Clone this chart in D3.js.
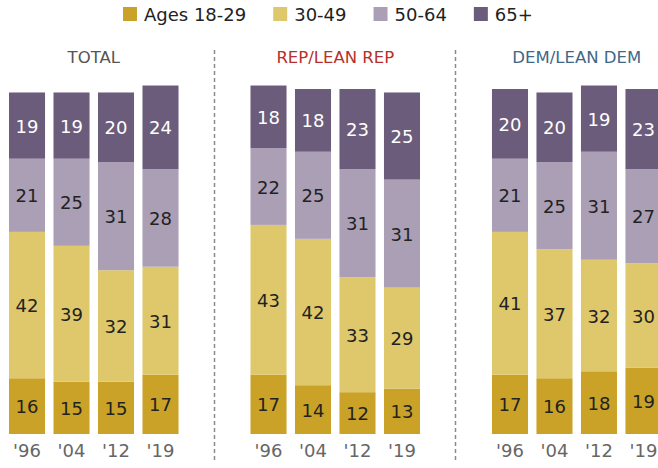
<!DOCTYPE html>
<html>
<head>
<meta charset="utf-8">
<script src="https://cdn.jsdelivr.net/npm/d3@7/dist/d3.min.js"></script>
<style>
  html, body { margin: 0; padding: 0; background: #fff; }
  svg { display: block; font-family: "DejaVu Sans", "Liberation Sans", Arial, sans-serif; }
</style>
</head>
<body>
<svg id="chart" width="658" height="468"></svg>
<script>
// Age composition of registered voters by party, share in each age group (%)
const panels = ["TOTAL", "REP/LEAN REP", "DEM/LEAN DEM"];
const years = ["'96", "'04", "'12", "'19"];
const ageGroups = ["Ages 18-29", "30-49", "50-64", "65+"];

const total_18_29 = [16, 15, 15, 17];
const total_30_49 = [42, 39, 32, 31];
const total_50_64 = [21, 25, 31, 28];
const total_65 = [19, 19, 20, 24];

const rep_18_29 = [17, 14, 12, 13];
const rep_30_49 = [43, 42, 33, 29];
const rep_50_64 = [22, 25, 31, 31];
const rep_65 = [18, 18, 23, 25];

const dem_18_29 = [17, 16, 18, 19];
const dem_30_49 = [41, 37, 32, 30];
const dem_50_64 = [21, 25, 31, 27];
const dem_65 = [20, 20, 19, 23];

const panelSeries = [
  [total_18_29, total_30_49, total_50_64, total_65],
  [rep_18_29, rep_30_49, rep_50_64, rep_65],
  [dem_18_29, dem_30_49, dem_50_64, dem_65]
];

const colors = ["#c9a227", "#dfc86b", "#ab9fb6", "#6b5c7b"];
const labelColors = ["#222", "#222", "#222", "#fff"];
const titleColors = ["#555555", "#b7312c", "#3f6888"];

const svg = d3.select("#chart");

// Layout scales
const xPanel = d3.scaleBand().domain(panels).range([9, 661.5]).paddingInner(0.298).paddingOuter(0);
const xYear = d3.scaleBand().domain(years).range([0, xPanel.bandwidth()]).paddingInner(0.19).paddingOuter(0);
const y = d3.scaleLinear().domain([0, 99]).range([434, 89]);

// Legend
const legend = svg.append("g").attr("class", "legend");
let lx = 123;
ageGroups.forEach((name, i) => {
  legend.append("rect")
    .attr("x", lx).attr("y", 7).attr("width", 14).attr("height", 14)
    .attr("fill", colors[i]);
  const t = legend.append("text")
    .attr("x", lx + 21).attr("y", 20.5)
    .attr("font-size", 18).attr("fill", "#222")
    .text(name);
  lx += 21 + t.node().getComputedTextLength() + 27;
});

// Dotted separators between panels
for (let p = 1; p < panels.length; p++) {
  const prevEnd = xPanel(panels[p - 1]) + xPanel.bandwidth();
  const nextStart = xPanel(panels[p]);
  const sx = Math.round((prevEnd + nextStart) / 2) - 0.5;
  svg.append("line")
    .attr("x1", sx).attr("x2", sx).attr("y1", 50).attr("y2", 462)
    .attr("stroke", "#8a8a8a").attr("stroke-width", 1.5)
    .attr("stroke-dasharray", "4,3");
}

panels.forEach((panel, p) => {
  const g = svg.append("g").attr("transform", `translate(${xPanel(panel)},0)`);

  g.append("text")
    .attr("x", xPanel.bandwidth() / 2).attr("y", 63)
    .attr("text-anchor", "middle").attr("font-size", 16.5)
    .attr("fill", titleColors[p])
    .text(panel);

  const rows = years.map((yr, j) => {
    const r = { year: yr };
    ageGroups.forEach((a, k) => { r[a] = panelSeries[p][k][j]; });
    return r;
  });
  const stacked = d3.stack().keys(ageGroups)(rows);

  stacked.forEach((layer, k) => {
    const lg = g.append("g");
    lg.selectAll("rect").data(layer).join("rect")
      .attr("x", d => xYear(d.data.year))
      .attr("y", d => y(d[1]))
      .attr("width", xYear.bandwidth())
      .attr("height", d => y(d[0]) - y(d[1]))
      .attr("fill", colors[k]);
    lg.selectAll("text").data(layer).join("text")
      .attr("x", d => xYear(d.data.year) + xYear.bandwidth() / 2)
      .attr("y", d => (y(d[0]) + y(d[1])) / 2 + 7)
      .attr("text-anchor", "middle")
      .attr("font-size", 18)
      .attr("fill", labelColors[k])
      .text(d => d[1] - d[0]);
  });

  // Year axis labels
  const axis = d3.axisBottom(xYear).tickSize(0).tickPadding(0);
  const ax = g.append("g").attr("transform", "translate(0,444)").call(axis);
  ax.select(".domain").remove();
  ax.selectAll("text")
    .attr("font-size", 18).attr("fill", "#666")
    .attr("font-family", "DejaVu Sans, Liberation Sans, Arial, sans-serif");
});
</script>
</body>
</html>
